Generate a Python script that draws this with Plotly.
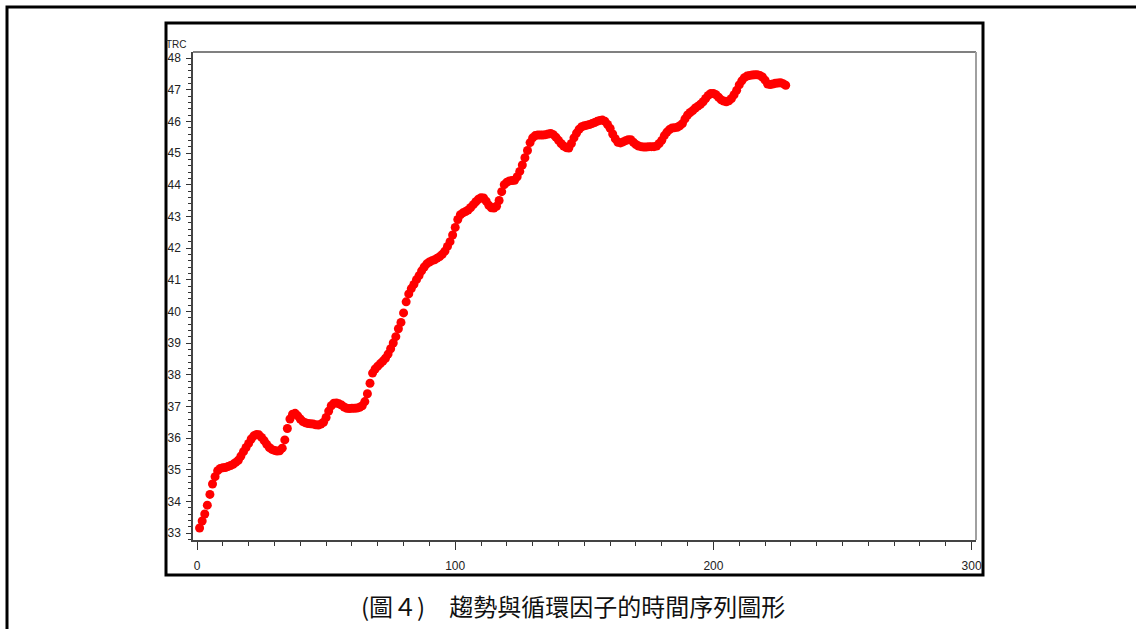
import plotly.graph_objects as go

# ---- data ----
t = list(range(1, 229))
trc = [
    33.16, 33.38, 33.60, 33.88, 34.22, 34.55, 34.78, 34.97, 35.04, 35.06,
    35.07, 35.10, 35.13, 35.17, 35.23, 35.30, 35.43, 35.57, 35.70, 35.83,
    35.97, 36.07, 36.11, 36.10, 36.02, 35.92, 35.80, 35.70, 35.64, 35.61,
    35.59, 35.60, 35.68, 35.94, 36.30, 36.60, 36.75, 36.78, 36.70, 36.60,
    36.52, 36.48, 36.46, 36.45, 36.44, 36.42, 36.41, 36.44, 36.50, 36.65,
    36.85, 37.02, 37.10, 37.11, 37.08, 37.04, 36.98, 36.94, 36.93, 36.94,
    36.94, 36.95, 36.97, 37.02, 37.15, 37.40, 37.73, 38.05, 38.18, 38.27,
    38.35, 38.43, 38.52, 38.65, 38.82, 39.00, 39.20, 39.45, 39.65, 39.95,
    40.30, 40.55, 40.72, 40.85, 41.00, 41.13, 41.28, 41.40, 41.50, 41.56,
    41.60, 41.63, 41.68, 41.73, 41.80, 41.90, 42.05, 42.20, 42.41, 42.65,
    42.90, 43.05, 43.11, 43.15, 43.20, 43.28, 43.37, 43.46, 43.54, 43.59,
    43.58, 43.48, 43.35, 43.27, 43.26, 43.32, 43.50, 43.78, 44.00, 44.08,
    44.12, 44.13, 44.14, 44.25, 44.42, 44.62, 44.85, 45.08, 45.33, 45.48,
    45.55, 45.57, 45.57, 45.57, 45.58, 45.60, 45.62, 45.58, 45.50, 45.40,
    45.30, 45.22, 45.17, 45.16, 45.30, 45.48, 45.63, 45.75, 45.83, 45.86,
    45.88, 45.90, 45.93, 45.96, 46.00, 46.03, 46.04, 46.00, 45.90, 45.78,
    45.60, 45.45, 45.34, 45.32, 45.35, 45.39, 45.42, 45.42, 45.34, 45.27,
    45.22, 45.20, 45.19, 45.19, 45.20, 45.20, 45.20, 45.22, 45.30, 45.40,
    45.55, 45.66, 45.74, 45.79, 45.80, 45.81, 45.86, 45.93, 46.08, 46.20,
    46.28, 46.34, 46.42, 46.48, 46.54, 46.62, 46.72, 46.82, 46.88, 46.88,
    46.84, 46.76, 46.68, 46.64, 46.62, 46.65, 46.72, 46.84, 46.98, 47.15,
    47.28, 47.38, 47.43, 47.45, 47.46, 47.47, 47.47, 47.45, 47.40, 47.30,
    47.18, 47.16, 47.18, 47.20, 47.21, 47.22, 47.19, 47.14,
]
x_major = [0, 100, 200, 300]
y_major = list(range(33, 49))
caption = "(圖４)　趨勢與循環因子的時間序列圖形"
y_title = "TRC"

# ---- layout geometry (pixels) ----
W, H = 1136, 629
PL, PR, PT, PB = 193, 976, 52, 540


def px(xp):
    return (xp - PL) / (PR - PL)


def py(yp):
    return (PB - yp) / (PB - PT)


fig = go.Figure()
fig.add_trace(go.Scatter(
    x=t, y=trc, mode="markers",
    marker=dict(symbol="circle", size=9, color="#ff0000", line=dict(width=0)),
    showlegend=False, hoverinfo="x+y",
))

tick_font = dict(family="Liberation Sans Narrow, Arial Narrow, Liberation Sans, Arial, sans-serif",
                 size=12, color="#222222")

fig.update_layout(
    width=W, height=H,
    margin=dict(l=PL, r=W - PR, t=PT, b=H - PB, pad=0),
    paper_bgcolor="white", plot_bgcolor="white",
    xaxis=dict(
        range=[-1.55, 301.7], tickvals=x_major, ticktext=[str(v) for v in x_major],
        ticks="outside", ticklen=8, tickwidth=1, tickcolor="#333333",
        minor=dict(dtick=10, tick0=0, ticks="outside", ticklen=4, tickcolor="#333333", showgrid=False),
        showgrid=False, zeroline=False,
        showline=True, linecolor="#444444", linewidth=1.5,
        tickfont=tick_font, ticklabelstandoff=6,
    ),
    yaxis=dict(
        range=[32.78, 48.19], tickvals=y_major, ticktext=[str(v) for v in y_major],
        ticks="outside", ticklen=5, tickwidth=1, tickcolor="#333333",
        minor=dict(dtick=0.2, tick0=33, ticks="outside", ticklen=3, tickcolor="#333333", showgrid=False),
        showgrid=False, zeroline=False,
        showline=True, linecolor="#444444", linewidth=1.5,
        tickfont=tick_font, ticklabelstandoff=3,
    ),
)

shapes = []
# top and right border of plot area (gray)
shapes.append(dict(type="line", xref="paper", yref="paper", x0=0, y0=1, x1=1, y1=1,
                   line=dict(color="#808080", width=2)))
shapes.append(dict(type="line", xref="paper", yref="paper", x0=1, y0=0, x1=1, y1=1,
                   line=dict(color="#a0a0a0", width=2)))
# inner black frame
shapes.append(dict(type="rect", xref="paper", yref="paper",
                   x0=px(166), y0=py(575), x1=px(983), y1=py(23),
                   line=dict(color="black", width=3)))
# outer frame (extends beyond the page on right and bottom)
shapes.append(dict(type="rect", xref="paper", yref="paper",
                   x0=px(7), y0=py(660), x1=px(1160), y1=py(7),
                   line=dict(color="black", width=3)))
fig.update_layout(shapes=shapes)

fig.add_annotation(text=y_title, xref="paper", yref="paper", x=px(176), y=py(45),
                   showarrow=False, xanchor="center", yanchor="middle",
                   font=dict(family="Liberation Sans Narrow, Arial Narrow, Liberation Sans, sans-serif",
                             size=10, color="#222222"))
fig.add_annotation(text=caption, xref="paper", yref="paper", x=px(573), y=py(605),
                   showarrow=False, xanchor="center", yanchor="middle",
                   font=dict(family="Noto Sans CJK TC, sans-serif", size=24, color="#111111"))

fig.write_html("out.html")
